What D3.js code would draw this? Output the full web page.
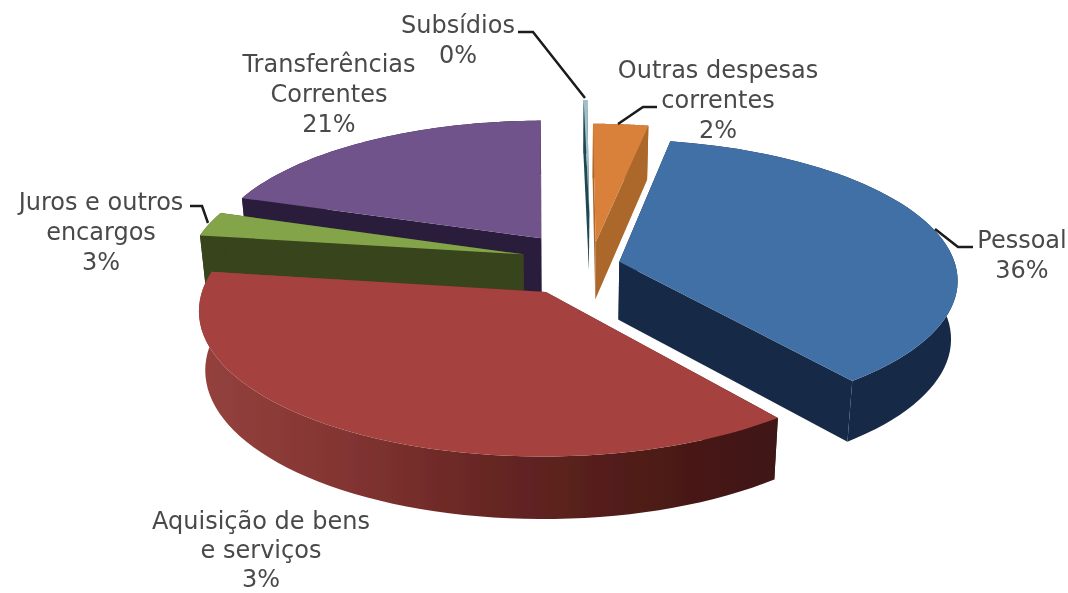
<!DOCTYPE html>
<html><head><meta charset="utf-8">
<script src="https://cdn.jsdelivr.net/npm/d3@7"></script>
<style>html,body{margin:0;padding:0;background:#fff}svg{display:block}text{font-family:"DejaVu Sans",sans-serif;font-size:24px;fill:#4a4a4a}</style>
</head><body><svg id="c" width="1068" height="593"></svg>
<script>
const categories = ["Outras despesas correntes","Pessoal","Aquisição de bens e serviços","Juros e outros encargos","Transferências Correntes","Subsídios"];
const sliceShares = [3.0,36.44,37.83,2.86,19.67,0.2];
const percentLabels = ["2%","36%","3%","3%","21%","0%"];
const topColors = ["#d9813a","#4170a6","#a54240","#84a44a","#6f528a","#9fc0c8"];
const sideColors = ["#ab672b","#182c47","url(#redSide)","#38441b","#2b1f3b","#1f4a55"];
const offsetU = [0.078,0.147,-0.07,-0.14,-0.0875,0.06];
const offsetV = [-0.19,-0.045,0.17,-0.1,-0.22,-0.42];
const labelLines = [["Outras despesas","correntes","2%"],["Pessoal","36%"],["Aquisição de bens","e serviços","3%"],["Juros e outros","encargos","3%"],["Transferências","Correntes","21%"],["Subsídios","0%"]];
const labelX = [718,1022,261,101,329,458];
const labelY = [78,248,529,210,72,33];
const labelStep = [30,30,29,30,30,30];
const leaderPaths = [[[657,107],[643,107],[618,124]],[[973,247],[958,247],[935,229]],null,[[190,206],[202,206],[208,223]],null,[[518,32],[533,32],[585,98]]];
const drawOrder = [5,0,4,3,1,2];
const cx=570, cy=268, Rx=337, Ry=138.5, p=0.12, depth=58, floorScale=0.983;

const svg=d3.select("#c");
const defs=svg.append("defs");
const f=defs.append("filter").attr("id","soft").attr("x",0).attr("y",0).attr("width","100%").attr("height","100%");
f.append("feGaussianBlur").attr("stdDeviation",0.7);
const g0=defs.append("linearGradient").attr("id","redSide").attr("gradientUnits","userSpaceOnUse").attr("x1",205).attr("x2",778).attr("y1",0).attr("y2",0);
[[0,"#94413e"],[0.25,"#823431"],[0.5,"#662623"],[0.75,"#501c19"],[1,"#3e1412"]].forEach(s=>g0.append("stop").attr("offset",s[0]).attr("stop-color",s[1]));

const pie=d3.pie().sort(null).startAngle(0).endAngle(2*Math.PI);
const arcs=pie(sliceShares);
const project=(u,v,down)=>{const s=1/(1-p*v);return down?[cx+Rx*u*s*floorScale, cy+Ry*v*s+depth*Math.sqrt(s)]:[cx+Rx*u*s, cy+Ry*v*s];};
const line=d3.line();
const root=svg.append("g").attr("filter","url(#soft)");
drawOrder.forEach(i=>{
  const a=arcs[i],ou=offsetU[i],ov=offsetV[i];
  const steps=d3.range(0,61).map(k=>a.startAngle+(a.endAngle-a.startAngle)*k/60);
  const rim=t=>[ou+Math.sin(t),ov-Math.cos(t)];
  const top=[project(ou,ov,false),...steps.map(t=>project(...rim(t),false))];
  const g=root.append("g");
  const face=(t)=>[project(ou,ov,false),project(...rim(t),false),project(...rim(t),true),project(ou,ov,true)];
  g.append("path").attr("d",line(face(a.startAngle))+"Z").attr("fill",sideColors[i]);
  g.append("path").attr("d",line(face(a.endAngle))+"Z").attr("fill",sideColors[i]);
  const side=[...steps.map(t=>project(...rim(t),false)),...steps.slice().reverse().map(t=>project(...rim(t),true))];
  g.append("path").attr("d",line(side)+"Z").attr("fill",sideColors[i]);
  g.append("path").attr("d",line(top)+"Z").attr("fill",topColors[i]);
});
leaderPaths.forEach(l=>{if(l)root.append("path").attr("d",line(l)).attr("fill","none").attr("stroke","#1a1a1a").attr("stroke-width",2.5);});
labelLines.forEach((ls,i)=>{
  const t=root.append("text").attr("text-anchor","middle").attr("x",labelX[i]).attr("y",labelY[i]);
  ls.forEach((s,j)=>t.append("tspan").attr("x",labelX[i]).attr("dy",j?labelStep[i]:0).text(s));
});
</script></body></html>
